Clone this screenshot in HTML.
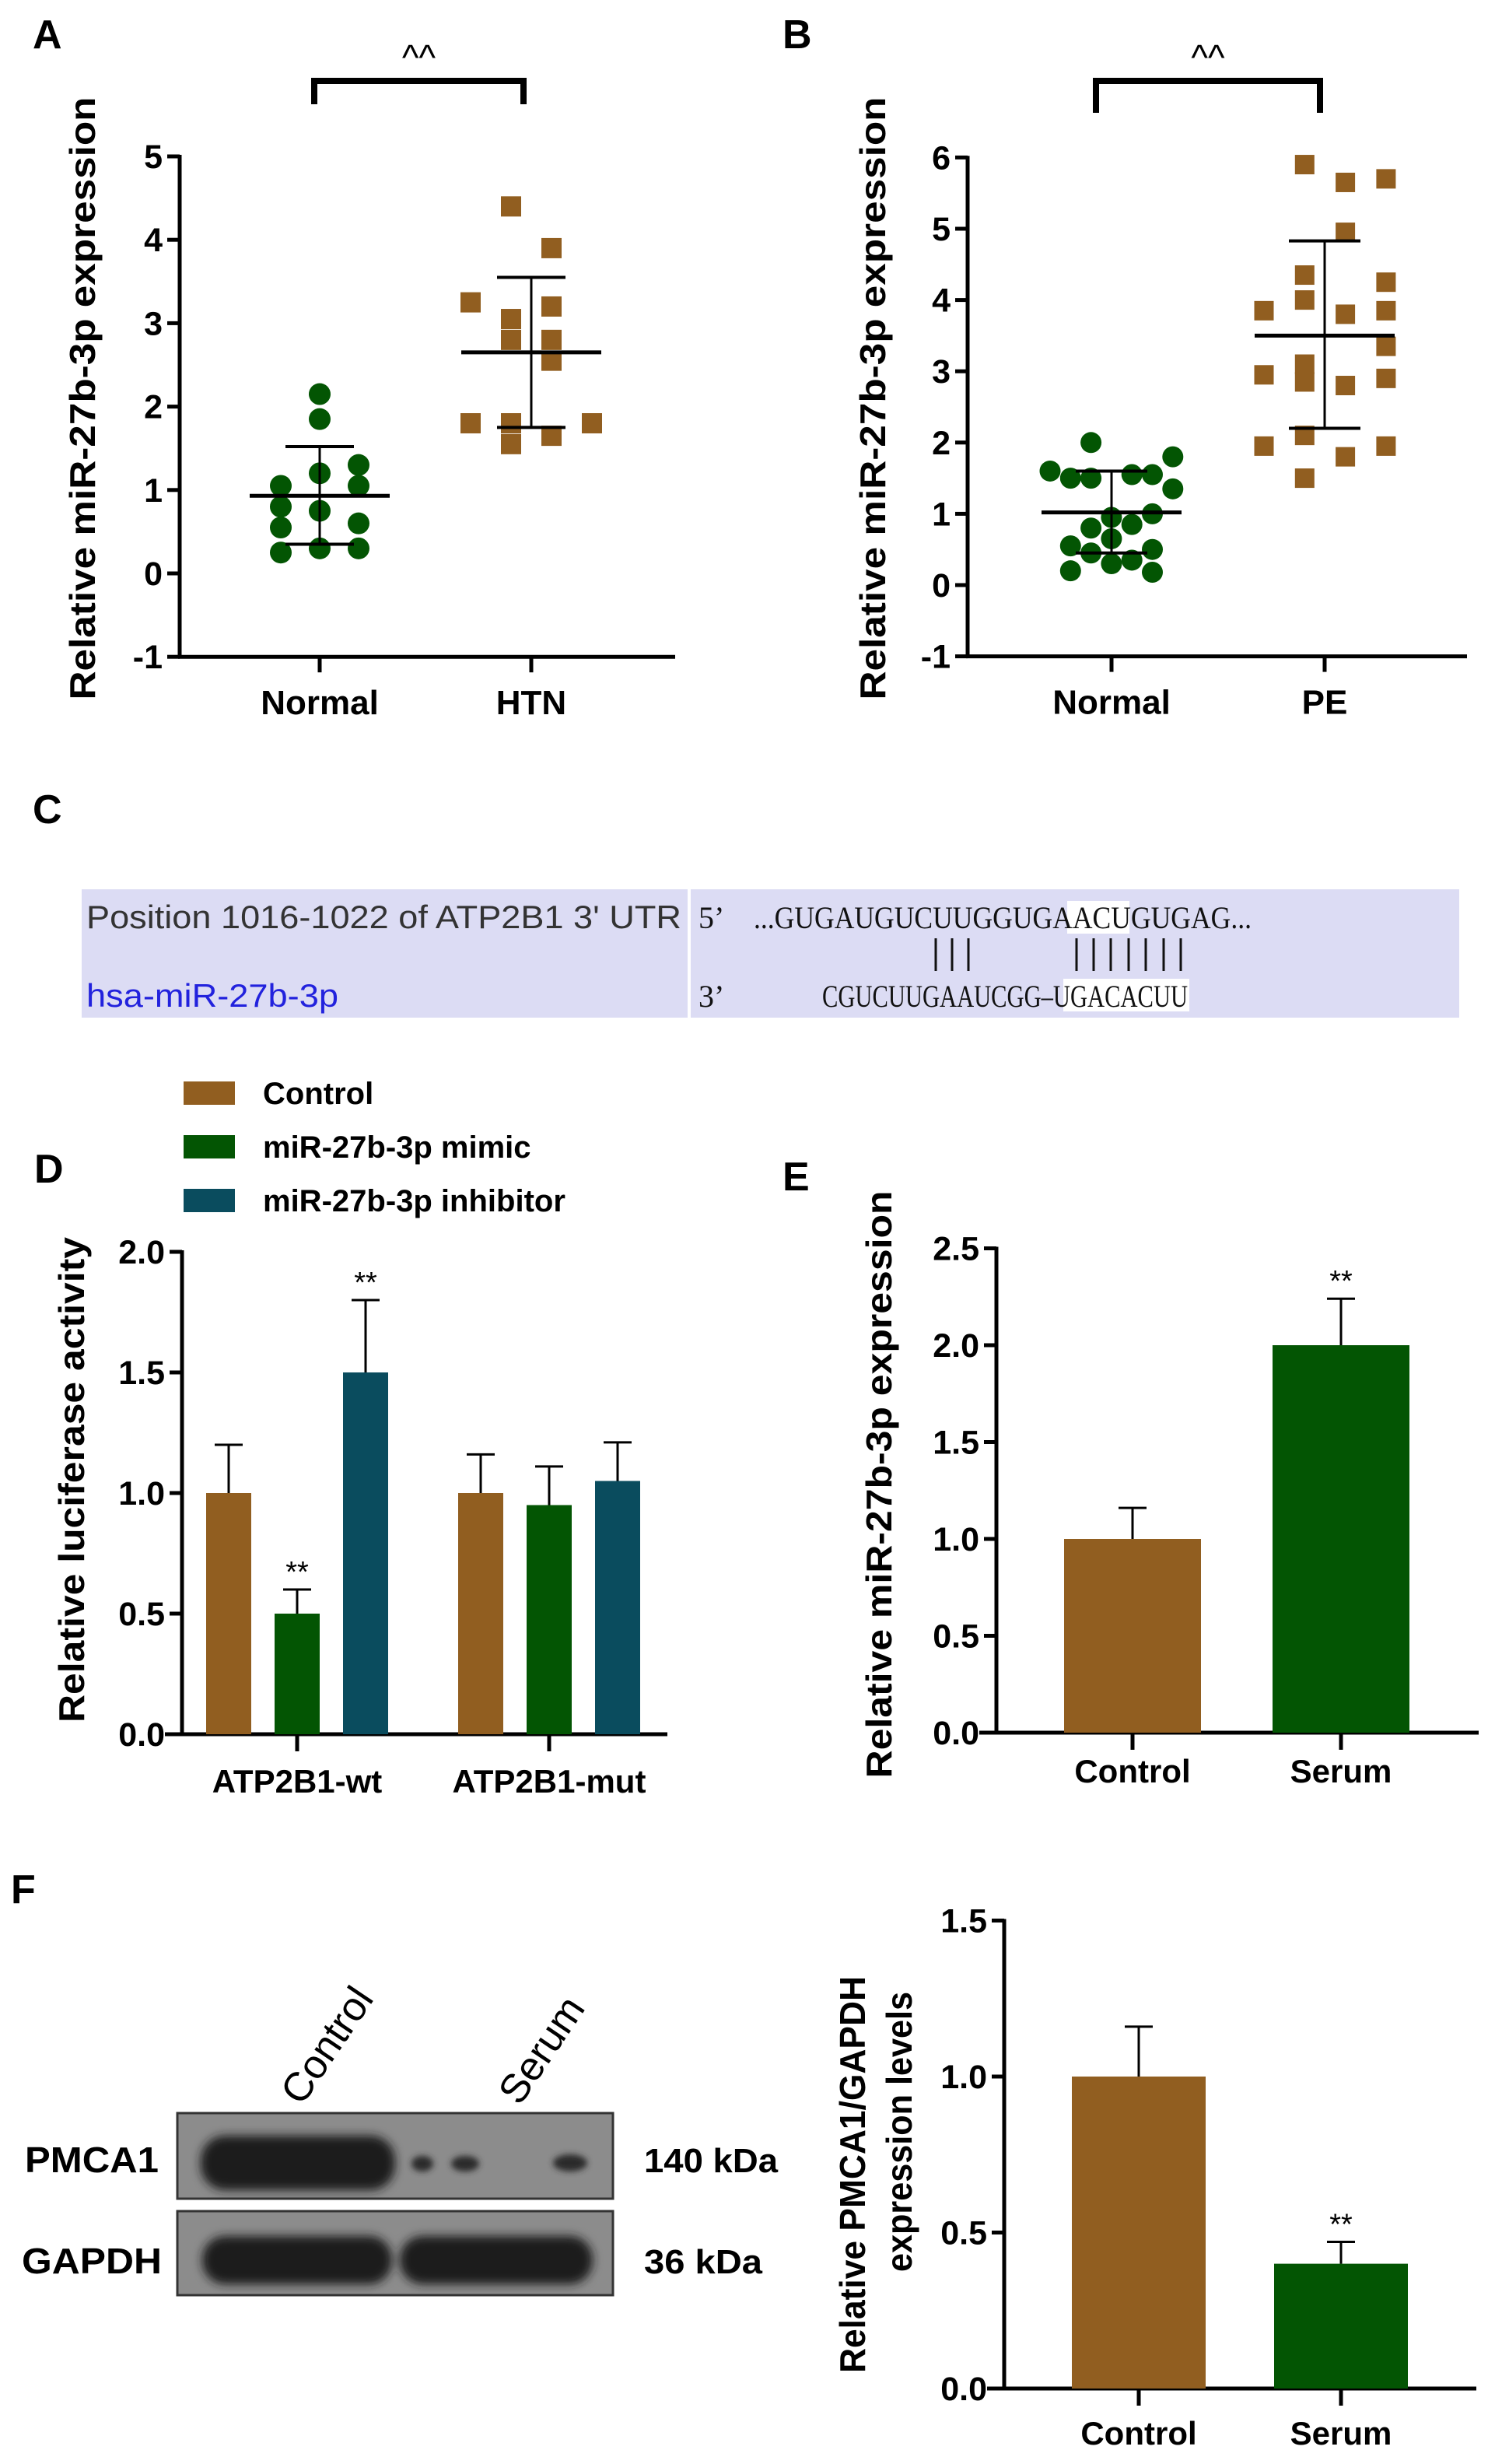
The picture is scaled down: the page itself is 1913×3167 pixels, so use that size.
<!DOCTYPE html>
<html><head><meta charset="utf-8">
<style>
html,body{margin:0;padding:0;background:#fff;}
svg{display:block;font-family:"Liberation Sans",Arial,sans-serif;}
</style></head>
<body>
<svg id="fig" width="1913" height="3167" viewBox="0 0 1913 3167" xmlns="http://www.w3.org/2000/svg">
<rect x="0" y="0" width="1913" height="3167" fill="#ffffff"/>
<!-- Panel labels -->
<text x="42" y="62" font-size="52" font-weight="bold">A</text>
<text x="1006" y="62" font-size="52" font-weight="bold">B</text>
<text x="42" y="1058" font-size="52" font-weight="bold">C</text>
<text x="44" y="1520" font-size="52" font-weight="bold">D</text>
<text x="1006" y="1530" font-size="52" font-weight="bold">E</text>
<text x="14" y="2446" font-size="52" font-weight="bold">F</text>

<!-- Panel C -->
<g>
  <rect x="105" y="1143" width="1771" height="165" fill="#dcdcf4"/>
  <rect x="884" y="1143" width="4" height="165" fill="#ffffff"/>
  <rect x="1372" y="1158" width="80" height="42" fill="#ffffff"/>
  <rect x="1367" y="1258" width="162" height="42" fill="#ffffff"/>
  <text x="111" y="1193" font-size="42" fill="#333" textLength="765" lengthAdjust="spacingAndGlyphs">Position 1016-1022 of ATP2B1 3' UTR</text>
  <text x="111" y="1294" font-size="42" fill="#2222dd" textLength="324" lengthAdjust="spacingAndGlyphs">hsa-miR-27b-3p</text>
  <text x="898" y="1193" font-size="40" font-family="Liberation Serif,serif" fill="#111">5’</text>
  <text x="898" y="1294" font-size="40" font-family="Liberation Serif,serif" fill="#111">3’</text>
  <text x="969" y="1193" font-size="40" font-family="Liberation Serif,serif" fill="#111" textLength="640" lengthAdjust="spacingAndGlyphs">...GUGAUGUCUUGGUGAACUGUGAG...</text>
  <text x="1057" y="1294" font-size="40" font-family="Liberation Serif,serif" fill="#111" textLength="470" lengthAdjust="spacingAndGlyphs">CGUCUUGAAUCGG–UGACACUU</text>
  <g stroke="#111" stroke-width="3">
    <line x1="1203" y1="1206" x2="1203" y2="1248"/><line x1="1224" y1="1206" x2="1224" y2="1248"/><line x1="1245" y1="1206" x2="1245" y2="1248"/>
    <line x1="1384" y1="1206" x2="1384" y2="1248"/><line x1="1406" y1="1206" x2="1406" y2="1248"/><line x1="1428" y1="1206" x2="1428" y2="1248"/><line x1="1451" y1="1206" x2="1451" y2="1248"/><line x1="1473" y1="1206" x2="1473" y2="1248"/><line x1="1496" y1="1206" x2="1496" y2="1248"/><line x1="1518" y1="1206" x2="1518" y2="1248"/>
  </g>
</g>

<!-- Western blot -->
<defs>
  <filter id="blur" x="-20%" y="-50%" width="140%" height="200%"><feGaussianBlur stdDeviation="6"/></filter>
  <filter id="blur2" x="-50%" y="-50%" width="200%" height="200%"><feGaussianBlur stdDeviation="4"/></filter>
</defs>
<g>
  <text x="0" y="0" font-size="52" transform="translate(388,2708) rotate(-56)">Control</text>
  <text x="0" y="0" font-size="52" transform="translate(668,2708) rotate(-56)">Serum</text>
  <rect x="228" y="2716" width="560" height="110" fill="#8c8c8c" stroke="#333" stroke-width="3"/>
  <rect x="228" y="2842" width="560" height="108" fill="#8c8c8c" stroke="#333" stroke-width="3"/>
  <g filter="url(#blur)" fill="#1a1a1a">
    <rect x="258" y="2745" width="250" height="70" rx="32"/>
    <rect x="260" y="2874" width="244" height="62" rx="30"/>
    <rect x="514" y="2874" width="248" height="62" rx="30"/>
  </g>
  <g filter="url(#blur2)" fill="#2a2a2a">
    <ellipse cx="543" cy="2781" rx="14" ry="10"/>
    <ellipse cx="598" cy="2781" rx="18" ry="10"/>
    <ellipse cx="733" cy="2780" rx="22" ry="11"/>
  </g>
  <text x="32" y="2792" font-size="46" font-weight="bold" textLength="172" lengthAdjust="spacingAndGlyphs">PMCA1</text>
  <text x="28" y="2922" font-size="46" font-weight="bold" textLength="180" lengthAdjust="spacingAndGlyphs">GAPDH</text>
  <text x="828" y="2792" font-size="44" font-weight="bold" textLength="172" lengthAdjust="spacingAndGlyphs">140 kDa</text>
  <text x="828" y="2922" font-size="44" font-weight="bold" textLength="152" lengthAdjust="spacingAndGlyphs">36 kDa</text>
</g>
</svg>

<script>
// ---------- DATA ----------
// Panel A
const aNormalVals = [2.15,1.85,1.3,1.2,1.05,1.05,0.8,0.75,0.6,0.55,0.3,0.3,0.25];
const aNormalCols = [1,1,2,1,0,2,0,1,2,0,1,2,0];
const aHtnVals = [4.4,3.9,3.25,3.2,3.05,2.8,2.8,2.55,1.8,1.8,1.8,1.65,1.55];
const aHtnCols = [1,2,0,2,1,1,2,2,0,1,3,2,1];
const aMean = [0.93, 2.65];
const aSdHi = [1.52, 3.55];
const aSdLo = [0.35, 1.75];
const aTicks = [-1,0,1,2,3,4,5];
const aCats = ["Normal","HTN"];
// Panel B
const bNormalVals = [2.0,1.8,1.6,1.5,1.5,1.55,1.55,1.35,1.0,0.95,0.8,0.85,0.55,0.65,0.45,0.5,0.35,0.3,0.2,0.18];
const bNormalCols = [2,6,0,1,2,4,5,6,5,3,2,4,1,3,2,5,4,3,1,5];
const bPeVals = [5.9,5.65,5.7,4.95,4.35,4.25,3.85,4.0,3.8,3.85,3.35,3.1,2.95,2.85,2.8,2.9,2.1,1.95,1.95,1.8,1.5];
const bPeCols = [1,2,3,2,1,3,0,1,2,3,3,1,0,1,2,3,1,0,3,2,1];
const bMean = [1.02, 3.5];
const bSdHi = [1.6, 4.83];
const bSdLo = [0.45, 2.2];
const bTicks = [-1,0,1,2,3,4,5,6];
const bCats = ["Normal","PE"];
// Panel D
const dGroups = ["ATP2B1-wt","ATP2B1-mut"];
const dSeries = ["Control","miR-27b-3p mimic","miR-27b-3p inhibitor"];
const dControl = [1.0, 1.0];
const dMimic = [0.5, 0.95];
const dInhib = [1.5, 1.05];
const dControlErr = [0.2, 0.16];
const dMimicErr = [0.1, 0.16];
const dInhibErr = [0.3, 0.16];
const dStars = [["","**","**"],["","",""]];
const dTicks = ["0.0","0.5","1.0","1.5","2.0"];
// Panel E
const eCats = ["Control","Serum"];
const eVals = [1.0, 2.0];
const eErr = [0.16, 0.24];
const eStars = ["","**"];
const eTicks = ["0.0","0.5","1.0","1.5","2.0","2.5"];
// Panel F
const fCats = ["Control","Serum"];
const fVals = [1.0, 0.4];
const fErr = [0.16, 0.07];
const fStars = ["","**"];
const fTicks = ["0.0","0.5","1.0","1.5"];

// ---------- HELPERS ----------
const NS = "http://www.w3.org/2000/svg";
const svg = document.getElementById("fig");
const BROWN = "#915e20", GREEN = "#035503", TEAL = "#0a4c5e";
function mk(tag, attrs, name) {
  const el = document.createElementNS(NS, tag);
  for (const k in attrs) el.setAttribute(k, attrs[k]);
  
  
  svg.appendChild(el);
  return el;
}
function ln(x1,y1,x2,y2,w,name){ return mk("line",{x1:x1,y1:y1,x2:x2,y2:y2,stroke:"#000","stroke-width":w},name); }
function tx(x,y,s,size,anchor,name,extra){
  const el = mk("text",Object.assign({x:x,y:y,"font-size":size,"font-weight":"bold","text-anchor":anchor||"start"},extra||{}),name);
  el.textContent = s; return el;
}
function yTitle(cx,cy,s,size,len,name){
  const el = mk("text",{x:0,y:0,"font-size":size,"font-weight":"bold","text-anchor":"middle","dominant-baseline":"central",textLength:len,lengthAdjust:"spacingAndGlyphs",transform:"translate("+cx+","+cy+") rotate(-90)"},name);
  el.textContent = s; return el;
}
function yAxis(x, yTop, yBot, ticks, scale, labels, size, pre){
  ln(x, yTop-2, x, yBot+2, 5, pre+"-y-axis");
  ticks.forEach((t,i)=>{
    const y = scale(t);
    ln(x-16, y, x, y, 5, pre+"-y-tick");
    tx(x-22, y+15, labels ? labels[i] : String(t), size, "end", pre+"-y-tick-label");
  });
}

// ---------- SCATTER ----------
function scatter(cfg){
  const s = v => cfg.y0 - v*cfg.unit;
  yAxis(cfg.ax, s(cfg.ticks[cfg.ticks.length-1]), s(cfg.ticks[0]), cfg.ticks, s, null, 43, cfg.pre);
  const yb = s(cfg.ticks[0]);
  ln(cfg.ax-2, yb, cfg.axEnd, yb, 5, cfg.pre+"-x-axis");
  cfg.catX.forEach((cx,i)=>{
    ln(cx, yb, cx, yb+20, 5, cfg.pre+"-x-tick");
    tx(cx, yb+74, cfg.cats[i], 44, "middle", cfg.pre+"-x-label");
  });
  cfg.g1Vals.forEach((v,i)=>{
    mk("circle",{cx:cfg.g1X0+cfg.g1Cols[i]*cfg.g1Step, cy:s(v), r:cfg.r, fill:GREEN}, cfg.pre+"-normal-point");
  });
  cfg.g2Vals.forEach((v,i)=>{
    const cx = cfg.g2X0+cfg.g2Cols[i]*cfg.g2Step;
    mk("rect",{x:cx-cfg.sq/2, y:s(v)-cfg.sq/2, width:cfg.sq, height:cfg.sq, fill:BROWN}, cfg.pre+"-case-point");
  });
  for (let k=0;k<2;k++){
    const cx = cfg.catX[k];
    ln(cx, s(cfg.sdHi[k]), cx, s(cfg.sdLo[k]), 3, cfg.pre+"-sd-line");
    ln(cx-cfg.capW, s(cfg.sdHi[k]), cx+cfg.capW, s(cfg.sdHi[k]), 4, cfg.pre+"-sd-cap-upper");
    ln(cx-cfg.capW, s(cfg.sdLo[k]), cx+cfg.capW, s(cfg.sdLo[k]), 4, cfg.pre+"-sd-cap-lower");
    ln(cx-cfg.meanW, s(cfg.mean[k]), cx+cfg.meanW, s(cfg.mean[k]), 5, cfg.pre+"-mean-line");
  }
  const b = cfg.br;
  mk("polyline",{points:b.x1+","+b.y2+" "+b.x1+","+b.y1+" "+b.x2+","+b.y1+" "+b.x2+","+b.y2, fill:"none", stroke:"#000","stroke-width":8}, cfg.pre+"-significance-bracket");
  tx((b.x1+b.x2)/2, b.y1-14, "^^", 46, "middle", cfg.pre+"-significance-mark",{"font-weight":"normal"});
  yTitle(cfg.titleX, cfg.titleY, "Relative miR-27b-3p expression", 46, cfg.titleLen, cfg.pre+"-y-axis-title");
}
scatter({pre:"panel-a", y0:737, unit:107.2, ax:231, axEnd:868, ticks:aTicks, cats:aCats, catX:[411,683],
  g1Vals:aNormalVals, g1Cols:aNormalCols, g1X0:361, g1Step:50, g2Vals:aHtnVals, g2Cols:aHtnCols, g2X0:605, g2Step:52,
  r:14, sq:26, mean:aMean, sdHi:aSdHi, sdLo:aSdLo, capW:44, meanW:90,
  br:{x1:404,x2:673,y1:104,y2:134}, titleX:106, titleY:512, titleLen:775});
scatter({pre:"panel-b", y0:752, unit:91.6, ax:1244, axEnd:1886, ticks:bTicks, cats:bCats, catX:[1429,1703],
  g1Vals:bNormalVals, g1Cols:bNormalCols, g1X0:1350, g1Step:26.3, g2Vals:bPeVals, g2Cols:bPeCols, g2X0:1625, g2Step:52.3,
  r:13.5, sq:25, mean:bMean, sdHi:bSdHi, sdLo:bSdLo, capW:46, meanW:90,
  br:{x1:1409,x2:1697,y1:104,y2:145}, titleX:1122, titleY:512, titleLen:775});

// ---------- BAR CHARTS ----------
function barAxis(pre, ax, axEnd, y0, unit, ticks){
  const s = v => y0 - v*unit;
  const vals = ticks.map(Number);
  yAxis(ax, s(vals[vals.length-1]), y0, vals, s, ticks, 43, pre);
  ln(ax-22, y0, axEnd, y0, 5, pre+"-x-axis");
  return s;
}
function bar(pre, cx, w, v, err, star, color, s, y0, name){
  mk("rect",{x:cx-w/2, y:s(v), width:w, height:y0-s(v), fill:color}, pre+"-"+name);
  ln(cx, s(v), cx, s(v+err), 3, pre+"-"+name+"-error");
  ln(cx-18, s(v+err), cx+18, s(v+err), 3, pre+"-"+name+"-error-cap");
  if (star) tx(cx, s(v+err)-10, star, 38, "middle", pre+"-"+name+"-significance",{"font-weight":"normal"});
}
// Panel D
(function(){
  const y0 = 2229, unit = 310, pre = "panel-d";
  const s = barAxis(pre, 234, 858, y0, unit, dTicks);
  const groupX = [382, 706];
  const series = [dControl, dMimic, dInhib];
  const errs = [dControlErr, dMimicErr, dInhibErr];
  const colors = [BROWN, GREEN, TEAL];
  groupX.forEach((gx,g)=>{
    ln(gx, y0, gx, y0+22, 5, pre+"-x-tick");
    tx(gx, y0+75, dGroups[g], 42, "middle", pre+"-x-label");
    for (let k=0;k<3;k++){
      bar(pre, gx+(k-1)*88, 58, series[k][g], errs[k][g], dStars[g][k], colors[k], s, y0, "bar-"+dGroups[g].toLowerCase()+"-"+k);
    }
  });
  const legY = [1405, 1474, 1543];
  dSeries.forEach((n,k)=>{
    mk("rect",{x:236, y:legY[k]-15, width:66, height:30, fill:colors[k]}, pre+"-legend-swatch");
    tx(338, legY[k]+14, n, 40, "start", pre+"-legend-entry");
  });
  yTitle(92, 1902, "Relative luciferase activity", 46, 624, pre+"-y-axis-title");
})();
// Panel E
(function(){
  const y0 = 2227, unit = 249, pre = "panel-e";
  const s = barAxis(pre, 1281, 1901, y0, unit, eTicks);
  const cx = [1456, 1724], colors = [BROWN, GREEN];
  eCats.forEach((c,i)=>{
    ln(cx[i], y0, cx[i], y0+22, 5, pre+"-x-tick");
    tx(cx[i], y0+64, c, 42, "middle", pre+"-x-label");
    bar(pre, cx[i], 176, eVals[i], eErr[i], eStars[i], colors[i], s, y0, "bar-"+c.toLowerCase());
  });
  yTitle(1130, 1908, "Relative miR-27b-3p expression", 46, 755, pre+"-y-axis-title");
})();
// Panel F
(function(){
  const y0 = 3070, unit = 401, pre = "panel-f";
  const s = barAxis(pre, 1291, 1898, y0, unit, fTicks);
  const cx = [1464, 1724], colors = [BROWN, GREEN];
  fCats.forEach((c,i)=>{
    ln(cx[i], y0, cx[i], y0+22, 5, pre+"-x-tick");
    tx(cx[i], y0+72, c, 42, "middle", pre+"-x-label");
    bar(pre, cx[i], 172, fVals[i], fErr[i], fStars[i], colors[i], s, y0, "bar-"+c.toLowerCase());
  });
  yTitle(1096, 2795, "Relative PMCA1/GAPDH", 46, 510, pre+"-y-axis-title-line1");
  yTitle(1156, 2740, "expression levels", 46, 360, pre+"-y-axis-title-line2");
})();
</script>
</body></html>
